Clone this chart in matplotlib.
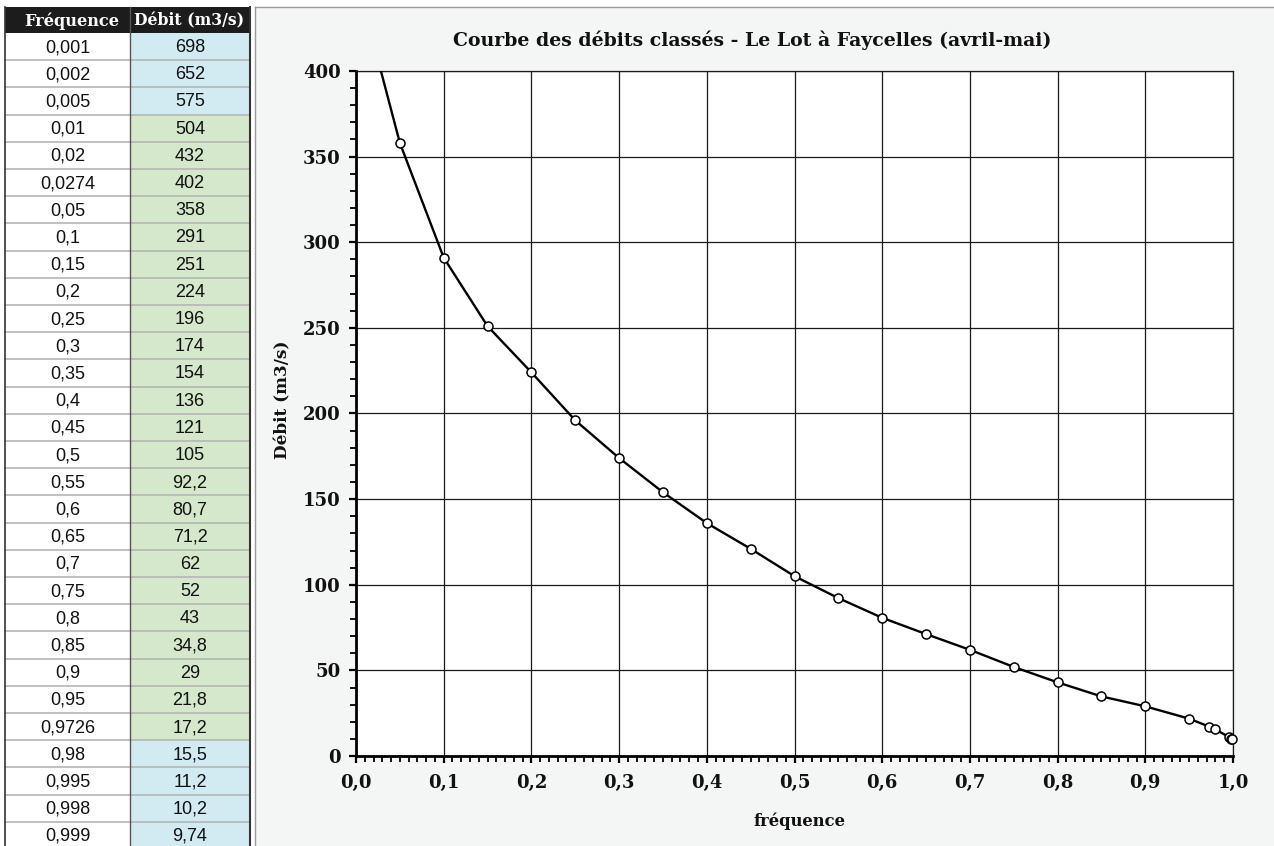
import matplotlib
matplotlib.use('Agg')
import matplotlib.pyplot as plt
from matplotlib.patches import Rectangle
from matplotlib.lines import Line2D
from matplotlib.ticker import MultipleLocator, FuncFormatter

# ---- data ----
frequence = [0.001, 0.002, 0.005, 0.01, 0.02, 0.0274, 0.05, 0.1, 0.15, 0.2,
             0.25, 0.3, 0.35, 0.4, 0.45, 0.5, 0.55, 0.6, 0.65, 0.7,
             0.75, 0.8, 0.85, 0.9, 0.95, 0.9726, 0.98, 0.995, 0.998, 0.999]
debit = [698, 652, 575, 504, 432, 402, 358, 291, 251, 224,
         196, 174, 154, 136, 121, 105, 92.2, 80.7, 71.2, 62,
         52, 43, 34.8, 29, 21.8, 17.2, 15.5, 11.2, 10.2, 9.74]
zone = ['ext'] * 3 + ['centre'] * 23 + ['ext'] * 4
headers = ["Fréquence", "Débit (m3/s)"]
title = "Courbe des débits classés - Le Lot à Faycelles (avril-mai)"
xlabel = "fréquence"
ylabel = "Débit (m3/s)"
y_max = 400

def fr(v):
    return f"{v:g}".replace('.', ',')

W, H = 1274, 846
fig = plt.figure(figsize=(W / 100, H / 100), dpi=100)
fig.patch.set_facecolor('white')

SERIF = ['DejaVu Serif']
SANS = ['Liberation Sans', 'DejaVu Sans']

# ---- background / frame for chart area (pixel-coordinate overlay) ----
bg = fig.add_axes([0, 0, 1, 1], zorder=0)
bg.set_xlim(0, W)
bg.set_ylim(H, 0)
bg.axis('off')
bg.add_patch(Rectangle((255, 7), W - 255, H - 7, facecolor='#f4f5f5',
                       edgecolor='none'))
bg.add_line(Line2D([255, W], [7, 7], color='#9a9a9a', lw=1))
bg.add_line(Line2D([255, 255], [7, H], color='#9a9a9a', lw=1))

# ---- table ----
top, hh, rh = 7, 26, 27.2
x0, xm, x1 = 5, 130, 250
bg.add_patch(Rectangle((x0, top), x1 - x0, hh, facecolor='#1c1c1c',
                       edgecolor='none'))
bg.text((x0 + xm) / 2 + 4, top + hh / 2 + 1, headers[0], color='white',
        fontsize=11.6, fontweight='bold', family=SERIF, ha='center', va='center')
bg.text((xm + x1) / 2 - 1, top + hh / 2 + 1, headers[1], color='white',
        fontsize=11.3, fontweight='bold', family=SERIF, ha='center', va='center')
colors = {'ext': '#d2ebf2', 'centre': '#d5e8cc'}
for i, (f, d, z) in enumerate(zip(frequence, debit, zone)):
    y = top + hh + i * rh
    bg.add_patch(Rectangle((x0, y), xm - x0, rh, facecolor='white',
                           edgecolor='none'))
    bg.add_patch(Rectangle((xm, y), x1 - xm, rh, facecolor=colors[z],
                           edgecolor='none'))
    bg.add_line(Line2D([x0, x1], [y + rh, y + rh], color='#b5b5b5', lw=1.2))
    bg.text((x0 + xm) / 2, y + rh / 2 + 1, fr(f), fontsize=13, family=SANS,
            ha='center', va='center', color='#111111')
    bg.text((xm + x1) / 2, y + rh / 2 + 1, fr(d), fontsize=13, family=SANS,
            ha='center', va='center', color='#111111')
bg.add_line(Line2D([x0, x0], [top, H], color='#333333', lw=1.2))
bg.add_line(Line2D([xm, xm], [top, H], color='#555555', lw=1.0))
bg.add_line(Line2D([x1, x1], [top, H], color='#333333', lw=1.5))

# ---- chart ----
L, R, T, B = 356, 1233, 71, 756
ax = fig.add_axes([L / W, 1 - B / H, (R - L) / W, (B - T) / H], zorder=2)
ax.set_facecolor('white')
ax.plot(frequence, debit, color='black', lw=1.7, zorder=3, clip_on=True)
fx = [f for f, d in zip(frequence, debit) if d <= y_max]
dy = [d for d in debit if d <= y_max]
ax.plot(fx, dy, ls='none', marker='o', ms=6.5, mfc='white', mec='black',
        mew=1.1, zorder=4, clip_on=False)
ax.set_xlim(0, 1)
ax.set_ylim(0, y_max)
ax.xaxis.set_major_locator(MultipleLocator(0.1))
ax.xaxis.set_minor_locator(MultipleLocator(0.01))
ax.yaxis.set_major_locator(MultipleLocator(50))
ax.yaxis.set_minor_locator(MultipleLocator(10))
ax.xaxis.set_major_formatter(FuncFormatter(lambda v, p: f"{v:.1f}".replace('.', ',')))
ax.yaxis.set_major_formatter(FuncFormatter(lambda v, p: f"{v:.0f}"))
ax.grid(True, which='major', color='#1a1a1a', lw=0.9)
ax.set_axisbelow(True)
for s in ['left', 'bottom']:
    ax.spines[s].set_linewidth(2.0)
    ax.spines[s].set_color('black')
for s in ['top', 'right']:
    ax.spines[s].set_linewidth(0.9)
    ax.spines[s].set_color('#1a1a1a')
ax.tick_params(axis='both', which='major', direction='out', length=5,
               width=1.6, color='black')
ax.tick_params(axis='both', which='minor', direction='out', length=4,
               width=1.3, color='black')
ax.tick_params(axis='y', which='major', pad=6)
ax.tick_params(axis='x', which='major', pad=8)
for lab in ax.get_xticklabels() + ax.get_yticklabels():
    lab.set_family(SERIF)
    lab.set_fontweight('bold')
    lab.set_fontsize(13)
    lab.set_color('#111111')

fig.text(752 / W, 1 - 40 / H, title, ha='center', va='center', fontsize=13.6,
         fontweight='bold', family=SERIF, color='#111111')
fig.text(800 / W, 1 - 821 / H, xlabel, ha='center', va='center', fontsize=11.8,
         fontweight='bold', family=SERIF, color='#111111')
fig.text(283 / W, 1 - 400 / H, ylabel, ha='center', va='center', fontsize=12.2,
         fontweight='bold', family=SERIF, color='#111111', rotation=90)

fig.savefig('out.png', dpi=100)
